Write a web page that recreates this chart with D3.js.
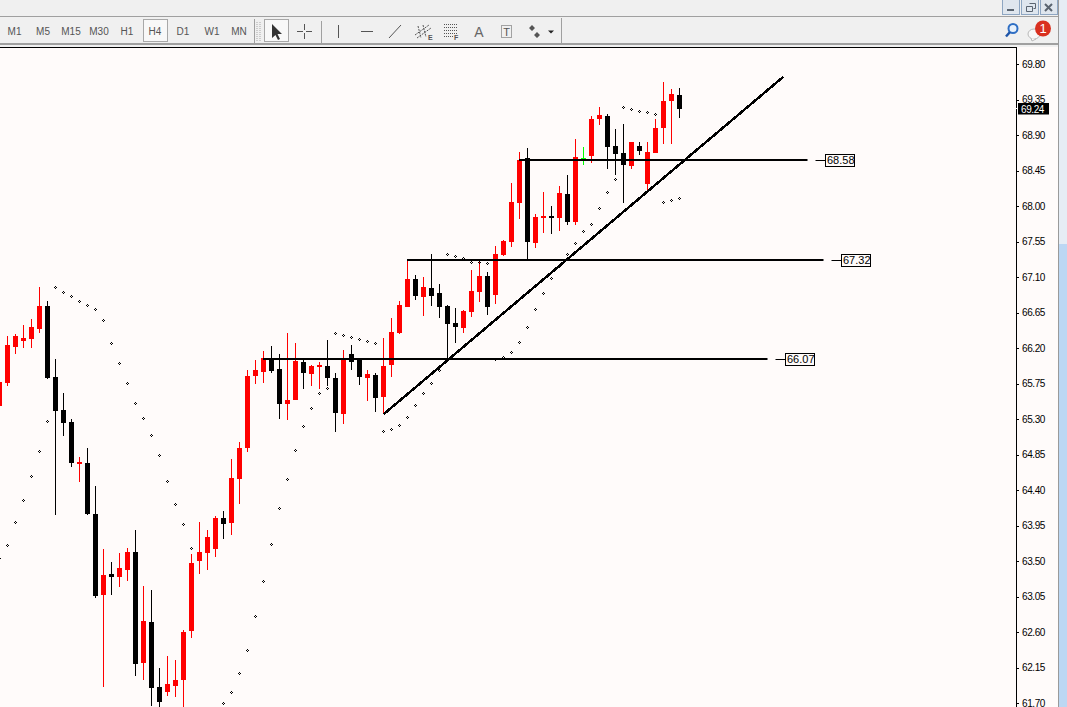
<!DOCTYPE html>
<html>
<head>
<meta charset="utf-8">
<script src="https://cdn.jsdelivr.net/npm/d3@7"></script>
<style>
  html, body { margin: 0; padding: 0; background: #f0f0f0; overflow: hidden; }
  svg { display: block; }
  text { font-family: "Liberation Sans", Arial, sans-serif; }
</style>
</head>
<body>
<div id="chart"></div>
<script>
/*********************************************
** Candles, oldest first.
**********************************************/
var opens = [65.48,65.77,66.22,66.30,66.33,66.45,66.74,65.84,65.43,65.27,64.74,64.75,64.11,63.08,63.35,63.31,63.40,63.63,62.22,62.74,61.92,61.85,61.93,62.00,62.62,63.51,63.61,63.66,64.06,63.99,64.55,64.94,65.86,65.91,66.07,65.94,65.50,65.55,66.03,65.88,65.97,65.98,65.83,65.37,66.14,66.07,65.83,65.87,65.59,65.99,66.40,66.73,67.09,66.86,66.97,66.91,66.74,66.53,66.46,66.67,66.92,67.12,66.88,67.39,67.55,68.05,68.62,67.54,67.86,67.88,67.86,68.16,67.81,68.62,68.64,69.11,69.15,68.77,68.68,68.52,68.77,68.29,68.68,69.00,69.34,69.42];
var highs = [65.78,66.36,66.39,66.50,66.58,66.98,66.81,66.07,65.64,65.31,64.83,64.94,64.46,63.66,63.50,63.61,63.68,63.90,63.19,63.14,62.15,62.31,62.26,62.64,63.60,64.01,63.90,64.08,64.15,64.80,65.02,65.93,66.06,66.17,66.24,66.14,66.40,66.27,66.07,65.99,66.03,66.31,65.89,66.19,66.25,66.07,65.93,65.89,66.34,66.59,66.81,67.31,67.14,67.11,67.40,67.02,66.76,66.72,66.69,67.20,67.30,67.17,67.50,67.58,68.30,68.69,68.75,67.91,68.19,68.01,68.27,68.40,68.86,68.76,69.15,69.27,69.18,68.99,69.05,68.82,68.82,68.82,69.11,69.58,69.49,69.51];
var lows = [65.48,65.73,66.14,66.21,66.21,66.40,65.82,64.09,65.10,64.70,64.51,64.09,63.04,61.92,63.08,63.18,63.26,62.05,62.00,61.67,61.62,61.80,61.79,61.62,62.54,63.35,63.40,63.56,63.79,63.84,64.23,64.89,65.75,65.77,65.89,65.31,65.30,65.55,65.69,65.73,65.69,65.73,65.15,65.25,65.93,65.74,65.54,65.40,65.37,65.84,66.39,66.73,66.82,66.62,66.74,66.59,66.07,66.27,66.40,66.60,66.79,66.63,66.77,67.38,67.49,67.85,67.33,67.48,67.67,67.66,67.69,67.77,67.77,68.53,68.55,69.04,68.48,68.40,68.05,68.48,68.66,68.19,68.68,68.80,68.80,69.12];
var closes = [65.78,66.25,66.36,66.34,66.48,66.74,65.83,65.41,65.26,64.75,64.77,64.11,63.07,63.33,63.31,63.42,63.63,62.21,62.75,61.90,61.72,61.95,62.00,62.61,63.49,63.63,63.82,64.06,63.98,64.56,64.94,65.86,65.93,66.08,65.92,65.50,65.55,66.05,65.89,65.98,65.99,65.83,65.39,66.06,66.03,65.84,65.88,65.58,65.98,66.41,66.76,67.09,66.87,66.98,66.87,66.73,66.51,66.48,66.68,66.93,67.12,66.73,67.40,67.57,68.06,68.59,67.55,67.87,67.88,67.86,68.18,67.81,68.63,68.62,69.11,69.16,68.76,68.67,68.53,68.82,68.71,68.69,69.00,69.34,69.43,69.24];

// Parabolic SAR dots per bar, null where the dot falls below the window
var sar = [63.55,63.71,64.01,64.28,64.59,64.91,65.29,66.98,66.92,66.87,66.81,66.76,66.71,66.56,66.27,66.02,65.77,65.51,65.32,65.11,64.85,64.52,64.23,63.98,63.68,null,null,null,61.71,61.85,62.09,62.38,62.81,63.26,63.73,64.18,64.55,64.92,65.22,65.45,65.64,65.70,66.40,66.38,66.35,66.33,66.30,66.27,65.16,65.19,65.24,65.34,65.49,65.64,65.77,65.93,67.40,67.38,67.35,67.30,67.30,67.29,66.07,66.10,66.16,66.29,66.48,66.71,66.91,67.10,67.25,67.40,67.54,67.69,67.78,67.98,68.19,68.35,69.27,69.24,69.22,69.20,69.18,68.06,68.09,68.11];

var priceTicks = [69.80,69.35,68.90,68.45,68.00,67.55,67.10,66.65,66.20,65.75,65.30,64.85,64.40,63.95,63.50,63.05,62.60,62.15,61.70];
var currentPrice = 69.24;

// Horizontal levels: price, first bar, last bar, and the text in the box
var levelPrices = [66.07, 67.32, 68.59];
var levelStarts = [33, 51, 65];
var levelEnds = [96, 103, 101];
var levelLabels = ["66.07", "67.32", "68.58"];

// Rising trend line, two bar/price anchors
var trendBars = [48, 98];
var trendPrices = [65.37, 69.65];

var periods = ["M1","M5","M15","M30","H1","H4","D1","W1","MN"];
var periodX = [14.5,43,71,99,127,155,183,212,239];

var width = 1067, height = 707;
var plotRight = 1016, plotTop = 47, frameRight = 1058;
var bg = "#fffbfa";

var xScale = d3.scaleLinear().domain([0, 85]).range([-0.5, 679.5]);
var yScale = d3.scaleLinear().domain([69.80, 61.70]).range([64.8, 703.9]);
function py(p) { return Math.round(yScale(p)); }

var svg = d3.select("#chart").append("svg")
  .attr("width", width)
  .attr("height", height)
  .attr("viewBox", "0 0 " + width + " " + height);

svg.append("defs").append("clipPath").attr("id", "plotClip")
  .append("rect")
  .attr("x", 0).attr("y", plotTop + 1)
  .attr("width", plotRight).attr("height", height - plotTop);

/**
* drawChrome
* [window frame, toolbar and its icons round the plot]
**/
function drawChrome() {
  svg.append("rect").attr("width", width).attr("height", height).attr("fill", "#f0f0f0");
  svg.append("rect").attr("x", 0).attr("y", 47).attr("width", frameRight).attr("height", height - 47).attr("fill", bg);

  // toolbar rules
  svg.append("rect").attr("x", 0).attr("y", 16).attr("width", frameRight).attr("height", 1).attr("fill", "#a0a0a0");
  svg.append("rect").attr("x", 0).attr("y", 43).attr("width", frameRight).attr("height", 2).attr("fill", "#a0a0a0");
  svg.append("rect").attr("x", 561).attr("y", 18).attr("width", 1).attr("height", 25).attr("fill", "#a0a0a0");

  // right edge strip
  svg.append("rect").attr("x", 1058).attr("y", 0).attr("width", 1).attr("height", height).attr("fill", "#9a9a9a");
  svg.append("rect").attr("x", 1059).attr("y", 0).attr("width", 8).attr("height", 244).attr("fill", "#e6edf5");
  svg.append("rect").attr("x", 1059).attr("y", 244).attr("width", 8).attr("height", height - 244).attr("fill", "#bcd7f3");

  // window buttons
  var btn = svg.append("g");
  [1002, 1021, 1040].forEach(function(x) {
    btn.append("rect").attr("x", x + 0.5).attr("y", -1).attr("width", 17).attr("height", 15.5)
      .attr("fill", "#dfe6ee").attr("stroke", "#8ea6c2");
  });
  btn.append("rect").attr("x", 1007).attr("y", 9).attr("width", 7).attr("height", 2).attr("fill", "#5a6470");
  btn.append("path").attr("d", "M1029.5,3.5h6v5h-2M1026.5,6.5h6v5h-6z")
    .attr("fill", "none").attr("stroke", "#5a6470");
  btn.append("path").attr("d", "M1045,4L1052,11M1052,4L1045,11")
    .attr("stroke", "#5a6470").attr("stroke-width", 2).attr("fill", "none");

  // search glass and mail bubble
  svg.append("circle").attr("cx", 1013).attr("cy", 28.5).attr("r", 4.5)
    .attr("fill", "#e8f1fb").attr("stroke", "#2f6fc4").attr("stroke-width", 2);
  svg.append("path").attr("d", "M1010,32L1006,36.5").attr("stroke", "#1f55a8").attr("stroke-width", 2.5);
  svg.append("ellipse").attr("cx", 1034).attr("cy", 34).attr("rx", 6).attr("ry", 5)
    .attr("fill", "#f8f8f8").attr("stroke", "#b8b8b8");
  svg.append("path").attr("d", "M1031,38l1,3l4,-2").attr("fill", "#f8f8f8").attr("stroke", "#b8b8b8");
  svg.append("circle").attr("cx", 1043).attr("cy", 28.5).attr("r", 8).attr("fill", "#d9301f");
  svg.append("text").attr("x", 1043).attr("y", 33).attr("text-anchor", "middle")
    .attr("font-size", 13).attr("fill", "#fff").text("1");

  // period buttons
  svg.append("rect").attr("x", 143.5).attr("y", 19.5).attr("width", 24).attr("height", 22)
    .attr("fill", "#f8f8f8").attr("stroke", "#a8a8a8");
  svg.append("rect").attr("x", 264.5).attr("y", 19.5).attr("width", 24).attr("height", 22)
    .attr("fill", "#f8f8f8").attr("stroke", "#a8a8a8");
  svg.selectAll(".period").data(periods).enter().append("text")
    .attr("class", "period")
    .attr("x", function(d, i) { return periodX[i]; })
    .attr("y", 35)
    .attr("text-anchor", "middle")
    .attr("font-size", 10)
    .attr("fill", "#555")
    .text(function(d) { return d; });

  // separators and grip
  svg.append("rect").attr("x", 254).attr("y", 19).attr("width", 1).attr("height", 24).attr("fill", "#a0a0a0");
  svg.append("rect").attr("x", 321).attr("y", 21).attr("width", 1).attr("height", 22).attr("fill", "#a0a0a0");
  svg.append("path").attr("d", "M257,22v20M260,22v20").attr("stroke", "#a8a8a8").attr("stroke-dasharray", "1,1");

  // drawing tool icons
  var ink = "#555";
  svg.append("path").attr("d", "M272,24L272,38L275.5,35L278,40L280,39L277.5,34L282,34Z").attr("fill", "#333");
  svg.append("path").attr("d", "M304.5,24v6M304.5,33v6M297,31.5h6M306,31.5h6").attr("stroke", ink).attr("fill", "none");
  svg.append("path").attr("d", "M338.5,25v13").attr("stroke", ink);
  svg.append("path").attr("d", "M361,31.5h12").attr("stroke", ink);
  svg.append("path").attr("d", "M389,38L401,25").attr("stroke", ink);
  svg.append("path").attr("d", "M415,35L429,25M417,38L431,28M418,26l3,12M423,25l3,12")
    .attr("stroke", ink).attr("fill", "none").attr("stroke-dasharray", "2,1");
  svg.append("text").attr("x", 428).attr("y", 40).attr("font-size", 7).attr("font-weight", "bold").attr("fill", ink).text("E");
  svg.append("path").attr("d", "M444,24.5h14M444,27.5h14M444,30.5h14M444,33.5h14M444,36.5h10")
    .attr("stroke", ink).attr("stroke-dasharray", "1,1");
  svg.append("text").attr("x", 454).attr("y", 40).attr("font-size", 7).attr("font-weight", "bold").attr("fill", ink).text("F");
  svg.append("text").attr("x", 479).attr("y", 37).attr("text-anchor", "middle").attr("font-size", 14)
    .attr("fill", "#666").text("A");
  svg.append("rect").attr("x", 501.5).attr("y", 25.5).attr("width", 10).attr("height", 12)
    .attr("fill", "none").attr("stroke", ink).attr("stroke-dasharray", "1,1");
  svg.append("text").attr("x", 506.5).attr("y", 36).attr("text-anchor", "middle").attr("font-size", 11)
    .attr("fill", ink).text("T");
  svg.append("path").attr("d", "M532,25l3,3l-3,3l-3,-3zM537,32l3,3l-3,3l-3,-3z").attr("fill", ink);
  svg.append("path").attr("d", "M548,30.5h6l-3,3z").attr("fill", "#222");
}

/**
* drawCandles
* [wick and body per bar; red rises, black falls, green when flat]
**/
function drawCandles(g) {
  var idx = d3.range(opens.length);
  function colour(i) {
    if (opens[i] === closes[i]) { return "#00ff00"; }
    return closes[i] > opens[i] ? "#ff0000" : "#000000";
  }
  g.selectAll(".wick").data(idx).enter().append("rect")
    .attr("class", "wick")
    .attr("x", function(i) { return xScale(i) - 0.5; })
    .attr("y", function(i) { return py(highs[i]); })
    .attr("width", 1)
    .attr("height", function(i) { return py(lows[i]) - py(highs[i]); })
    .attr("fill", colour);
  g.selectAll(".body").data(idx).enter().append("rect")
    .attr("class", "body")
    .attr("x", function(i) { return xScale(i) - 2.5; })
    .attr("y", function(i) { return py(Math.max(opens[i], closes[i])); })
    .attr("width", 5)
    .attr("height", function(i) {
      return Math.max(1, py(Math.min(opens[i], closes[i])) - py(Math.max(opens[i], closes[i])));
    })
    .attr("fill", colour);
}

/**
* drawSar
* [small hollow pixel diamonds]
**/
function drawSar(g) {
  var pts = d3.range(sar.length).filter(function(i) { return sar[i] !== null; });
  g.selectAll(".sar").data(pts).enter().append("path")
    .attr("class", "sar")
    .attr("d", function(i) {
      var x = xScale(i) - 0.5, y = py(sar[i]);
      return "M" + (x - 1) + "," + y + "h1v1h-1z"
        + "M" + (x + 1) + "," + y + "h1v1h-1z"
        + "M" + x + "," + (y - 1) + "h1v1h-1z"
        + "M" + x + "," + (y + 1) + "h1v1h-1z";
    })
    .attr("fill", "#000");
}

/**
* drawLevels
* [thick horizontal lines with the small tick and boxed price after each]
**/
function drawLevels(g) {
  levelPrices.forEach(function(p, i) {
    var y = py(p);
    var x0 = xScale(levelStarts[i]) - 0.5;
    var x1 = xScale(levelEnds[i]);
    g.append("rect").attr("x", x0).attr("y", y - 1).attr("width", x1 - x0).attr("height", 2).attr("fill", "#000");
    g.append("rect").attr("x", x1 + 8).attr("y", y).attr("width", 11).attr("height", 1).attr("fill", "#000");
    g.append("rect").attr("x", x1 + 18).attr("y", y - 5.5).attr("width", 29).attr("height", 11.5)
      .attr("fill", bg).attr("stroke", "#000").attr("shape-rendering", "crispEdges");
    g.append("text").attr("x", x1 + 19.5).attr("y", y + 4)
      .attr("font-size", 11).attr("fill", "#000").text(levelLabels[i]);
  });
}

function drawTrend(g) {
  var line = d3.line()
    .x(function(i) { return xScale(trendBars[i]); })
    .y(function(i) { return yScale(trendPrices[i]); });
  g.append("path")
    .attr("d", line([0, 1]))
    .attr("fill", "none")
    .attr("stroke", "#000")
    .attr("stroke-width", 2.5)
    .attr("shape-rendering", "crispEdges");
}

/**
* drawPriceAxis
* [right hand price scale and the black current price flag]
**/
function drawPriceAxis() {
  var axis = d3.axisRight(yScale)
    .tickValues(priceTicks)
    .tickFormat(d3.format(".2f"))
    .tickSize(3)
    .tickPadding(3);
  var g = svg.append("g")
    .attr("transform", "translate(" + plotRight + ",-0.6)")
    .call(axis);
  g.select(".domain").remove();
  g.selectAll(".tick line").attr("stroke", "#000").attr("shape-rendering", "crispEdges");
  g.selectAll(".tick text")
    .attr("font-family", "Liberation Sans")
    .attr("font-size", 10)
    .attr("letter-spacing", "-0.4px")
    .attr("fill", "#000");

  // frame of the plot
  svg.append("rect").attr("x", 0).attr("y", plotTop).attr("width", plotRight + 1).attr("height", 1).attr("fill", "#000");
  svg.append("rect").attr("x", plotRight).attr("y", plotTop).attr("width", 1).attr("height", height - plotTop).attr("fill", "#000");

  var y = py(currentPrice);
  svg.append("rect").attr("x", plotRight + 2).attr("y", y - 6).attr("width", 31).attr("height", 11.5).attr("fill", "#000");
  svg.append("rect").attr("x", plotRight).attr("y", y - 1).attr("width", 2).attr("height", 1).attr("fill", "#fff");
  svg.append("text").attr("x", plotRight + 5).attr("y", y + 3.5)
    .attr("font-size", 10).attr("letter-spacing", "-0.4px").attr("fill", "#fff").text(d3.format(".2f")(currentPrice));
}

drawChrome();
var plot = svg.append("g").attr("clip-path", "url(#plotClip)");
drawCandles(plot);
drawSar(plot);
drawLevels(plot);
drawTrend(plot);
drawPriceAxis();
</script>
</body>
</html>
